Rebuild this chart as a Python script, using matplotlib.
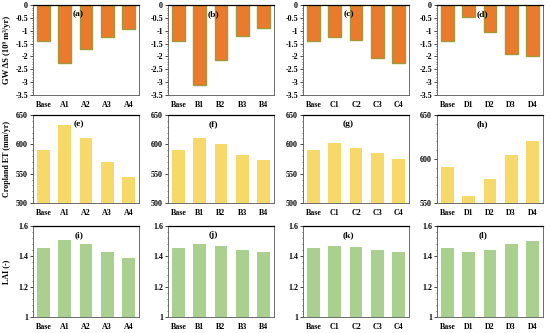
import numpy as np
import matplotlib
matplotlib.use("Agg")
import matplotlib.pyplot as plt
from matplotlib.ticker import MultipleLocator, AutoMinorLocator

plt.rcParams["font.family"] = ["Liberation Serif", "DejaVu Serif"]
plt.rcParams["font.weight"] = "bold"

# --- data -------------------------------------------------------------------
cats = [
    ["Base", "A1", "A2", "A3", "A4"],
    ["Base", "B1", "B2", "B3", "B4"],
    ["Base", "C1", "C2", "C3", "C4"],
    ["Base", "D1", "D2", "D3", "D4"],
]
gw = [
    [-1.40, -2.25, -1.72, -1.25, -0.95],
    [-1.40, -3.10, -2.15, -1.20, -0.90],
    [-1.40, -1.25, -1.35, -2.05, -2.25],
    [-1.40, -0.45, -1.05, -1.90, -2.00],
]
et = [
    [591, 633, 610, 570, 544],
    [591, 610, 601, 582, 573],
    [591, 602, 594, 585, 575],
    [591, 558, 577, 604, 621],
]
lai = [
    [1.455, 1.51, 1.48, 1.43, 1.39],
    [1.455, 1.48, 1.47, 1.44, 1.43],
    [1.455, 1.47, 1.46, 1.445, 1.43],
    [1.455, 1.43, 1.44, 1.48, 1.50],
]
panel_tags = "abcdefghijkl"

ORANGE = "#EB7A2C"
OLIVE = "#A29A3A"
YELLOW = "#F7D96A"
GREEN = "#A9D08E"

fig = plt.figure(figsize=(5.5, 3.33), dpi=100)
W, H = 550, 333
lefts = [33, 168, 303, 437]
aw = 106
rows = [(5, 95), (115, 203), (226, 317)]
TS = 5.8

def make_ax(col, row):
    x0 = lefts[col]
    t, b = rows[row]
    return fig.add_axes([x0 / W, 1 - b / H, aw / W, (b - t) / H])

for c in range(4):
    x = np.arange(5)
    for r in range(3):
        ax = make_ax(c, r)
        if r == 0:
            ax.bar(x, gw[c], width=0.6, color=ORANGE, edgecolor=OLIVE, lw=1.0)
            ax.set_ylim(-3.5, 0)
            ax.yaxis.set_major_locator(MultipleLocator(0.5))
            ax.set_yticklabels([f"{v:g}" for v in ax.get_yticks()])
            if c == 0:
                ax.set_ylabel("GW ΔS (10⁹ m³/yr)", fontsize=6.2,
                              fontweight="bold", labelpad=3)
        elif r == 1:
            ax.bar(x, et[c], width=0.6, color=YELLOW)
            if c == 3:
                ax.set_ylim(550, 650)
            else:
                ax.set_ylim(500, 650)
            ax.yaxis.set_major_locator(MultipleLocator(50))
            if c == 0:
                ax.set_ylabel("Cropland ET (mm/yr)", fontsize=5.8,
                              fontweight="bold", labelpad=4)
        else:
            ax.bar(x, lai[c], width=0.6, color=GREEN)
            ax.set_ylim(1, 1.6)
            ax.yaxis.set_major_locator(MultipleLocator(0.2))
            ax.set_yticklabels([f"{v:g}" for v in ax.get_yticks()])
            if c == 0:
                ax.set_ylabel("LAI (-)", fontsize=5.8, fontweight="bold", labelpad=6)
        ax.yaxis.set_minor_locator(AutoMinorLocator(5))
        ax.set_xlim(-0.5, 4.5)
        ax.set_xticks(x)
        ax.set_xticklabels(cats[c])
        ax.tick_params(axis="x", length=0, labelsize=TS, pad=4)
        ax.tick_params(axis="y", which="major", length=2, width=0.5, labelsize=TS, pad=1.5)
        ax.tick_params(axis="y", which="minor", length=1, width=0.4)
        for lab in ax.get_xticklabels() + ax.get_yticklabels():
            lab.set_fontweight("bold")
        for s in ax.spines.values():
            s.set_linewidth(0.6)
            s.set_color("#555555")
        ax.spines["top"].set_color("black")
        ax.spines["top"].set_linewidth(0.9)
        ax.text(0.43, 0.9, f"({panel_tags[r * 4 + c]})", transform=ax.transAxes,
                ha="center", va="center", fontsize=6.8, fontweight="bold")

fig.savefig("out.png", dpi=100)
